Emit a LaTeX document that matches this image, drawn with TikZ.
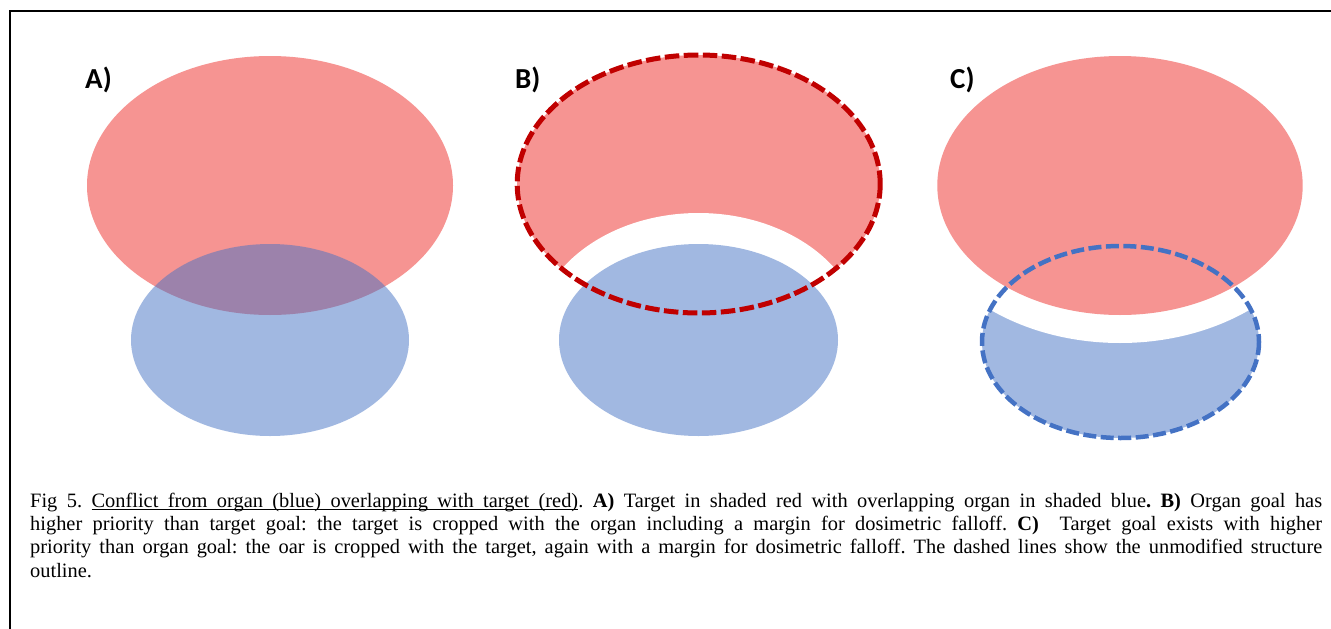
\documentclass[tikz,border=0pt]{standalone}
\usepackage{fontspec}
\setmainfont{Liberation Serif}
\newfontfamily\labelfont{Carlito}
\definecolor{tgtred}{RGB}{246,148,146}
\definecolor{oarblue}{RGB}{68,114,196}
\definecolor{darkred}{RGB}{192,0,0}
\tikzset{
  target/.style={fill=tgtred},
  organ/.style={fill=oarblue, fill opacity=0.5},
  gapfill/.style={fill=white},
  reddash/.style={draw=darkred, line width=5pt, dash pattern=on 14.5pt off 4.5pt},
  bluedash/.style={draw=oarblue, line width=4.5pt, dash pattern=on 13pt off 4.5pt},
  panellabel/.style={anchor=base west, inner sep=0pt, font=\labelfont\bfseries\fontsize{29}{34}\selectfont},
  frameline/.style={draw=black, line width=2pt}
}
\newsavebox\ulbox
\newcommand\ulw[1]{\sbox\ulbox{#1}\rlap{\leaders\hrule height -2.3pt depth 3.4pt\hskip\wd\ulbox}\usebox\ulbox}
\newcommand\ulsp{\leaders\hrule height -2.3pt depth 3.4pt\hskip\fontdimen2\font plus \fontdimen3\font minus \fontdimen4\font\relax}
\begin{document}
\begin{tikzpicture}[x=1pt,y=-1pt]
\useasboundingbox (0,0) rectangle (1331,629);
% frame
\coordinate (ftop) at (1331,10.5);
\coordinate (fcorner) at (10,10.5);
\coordinate (fbottom) at (10,629);
\draw[frameline] (ftop) -- (fcorner) -- (fbottom);

% Panel A
\fill[target] (270,185.5) ellipse [x radius=183, y radius=129.5];
\fill[organ] (270,340) ellipse [x radius=139, y radius=96];
\node[panellabel] (labA) at (85,88) {A)};

% Panel B
\fill[target] (698.7,184) ellipse [x radius=181.5, y radius=129];
\fill[gapfill] (698.5,340) ellipse [x radius=165, y radius=127];
\fill[organ] (698.5,340) ellipse [x radius=139.5, y radius=96];
\draw[reddash] (698.7,184) ellipse [x radius=181.5, y radius=129];
\node[panellabel] (labB) at (515,88) {B)};

% Panel C
\fill[organ] (1120.5,342) ellipse [x radius=138.5, y radius=96];
\fill[gapfill] (1120,185.5) ellipse [x radius=211, y radius=157.5];
\fill[target] (1120,185.5) ellipse [x radius=182.7, y radius=129.5];
\draw[bluedash] (1120.5,342) ellipse [x radius=138.5, y radius=96];
\node[panellabel] (labC) at (950,88) {C)};

% caption
\node[anchor=base west, inner sep=0pt] (caption) at (30,507) {\parbox[t]{1292pt}{\fontsize{20.4}{23.4}\selectfont\frenchspacing\noindent
Fig 5. \ulw{Conflict}\ulsp\ulw{from}\ulsp\ulw{organ}\ulsp\ulw{(blue)}\ulsp\ulw{overlapping}\ulsp\ulw{with}\ulsp\ulw{target}\ulsp\ulw{(red)}. \textbf{A)} Target in shaded red with overlapping organ in shaded blue\textbf{. B)} Organ goal has\linebreak
higher priority than target goal: the target is cropped with the organ including a margin for dosimetric falloff. \textbf{C)}\ \ Target goal exists with higher\linebreak
priority than organ goal: the oar is cropped with the target, again with a margin for dosimetric falloff. The dashed lines show the unmodified structure\linebreak
outline.}};
\end{tikzpicture}
\end{document}
